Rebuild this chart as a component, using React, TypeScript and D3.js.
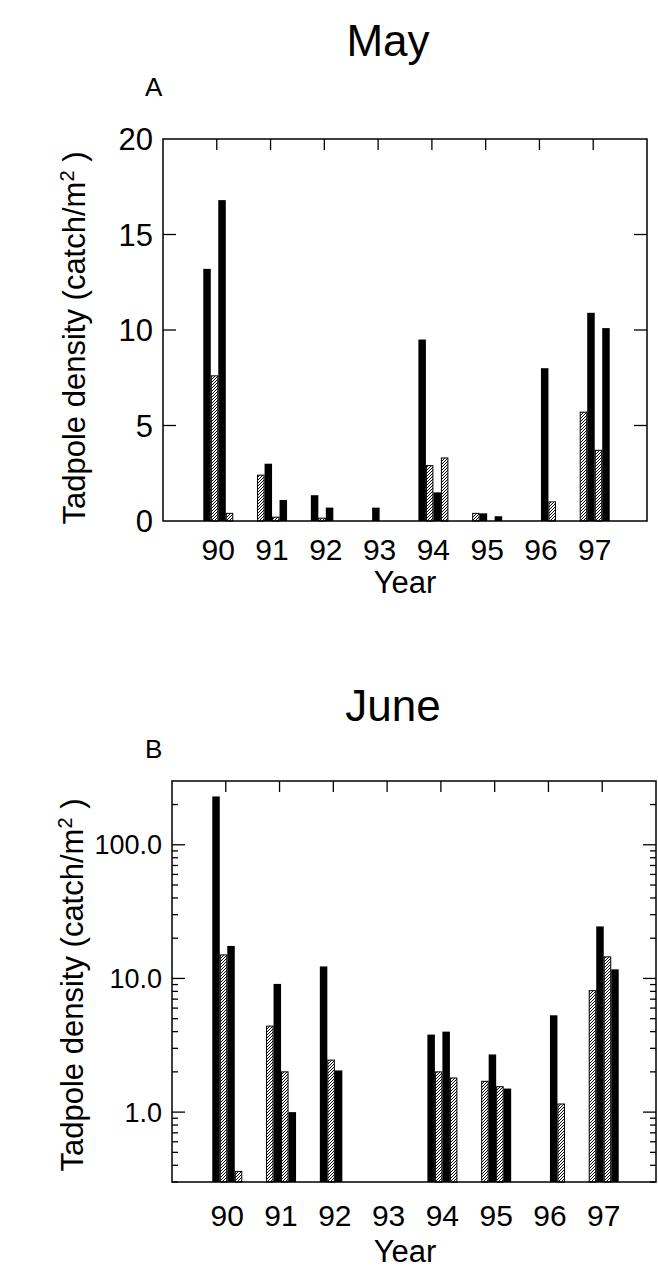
import React, { useRef, useEffect } from 'react';
import * as d3 from 'd3';

// --- Data ---
const years = ['90', '91', '92', '93', '94', '95', '96', '97'];
const yearNums = [90, 91, 92, 93, 94, 95, 96, 97];
// fill of each of the 4 bars in a year group: B = solid, H = hatched
const slotFills = ['BHBH', 'HBHB', 'BHBH', 'HBHB', 'BHBH', 'HBHB', 'BHBH', 'HBHB'];

// May (panel A), one array per bar slot
const maySite1 = [13.2, 2.4, 1.35, null, 9.5, 0.4, null, 5.7];
const maySite2 = [7.6, 3.0, 0.15, 0.7, 2.9, 0.4, null, 10.9];
const maySite3 = [16.8, 0.2, 0.7, null, 1.5, null, 8.0, 3.7];
const maySite4 = [0.4, 1.1, null, null, 3.3, 0.25, 1.0, 10.1];

// June (panel B)
const juneSite1 = [230, 4.4, 12.3, null, 3.8, 1.7, null, 8.1];
const juneSite2 = [15, 9.1, 2.45, null, 2.0, 2.7, null, 24.5];
const juneSite3 = [17.5, 2.0, 2.05, null, 4.0, 1.55, 5.3, 14.5];
const juneSite4 = [0.36, 1.0, null, null, 1.8, 1.5, 1.15, 11.7];

const mayTickValues = [0, 5, 10, 15, 20];
const juneTickValues = [1, 10, 100];
const juneTickLabels = ['1.0', '10.0', '100.0'];

const FONT = '"Liberation Sans", Arial, Helvetica, sans-serif';

const drawPanel = (svg, cfg) => {
  const { box } = cfg;
  const g = svg.append('g');
  const x = d3.scaleLinear().domain([89, 98]).range([box.left, box.right]);
  const y = cfg.yScale;
  const yBase = box.bottom;
  const slotW = 7.5;

  // titles
  g.append('text')
    .attr('x', cfg.titleX).attr('y', cfg.titleY)
    .attr('text-anchor', 'middle')
    .style('font-family', FONT).style('font-size', '44px')
    .text(cfg.title);
  g.append('text')
    .attr('x', cfg.letterX).attr('y', cfg.letterY)
    .style('font-family', FONT).style('font-size', '26px')
    .text(cfg.letter);

  // bars
  cfg.sites.forEach((site, s) => {
    site.forEach((v, i) => {
      if (v == null) return;
      const kind = slotFills[i][s];
      const x0 = x(yearNums[i]) + (s - 2) * slotW + 1.5;
      const top = y(v);
      g.append('rect')
        .attr('x', x0 + (kind === 'H' ? 0.5 : 0))
        .attr('y', top)
        .attr('width', kind === 'H' ? slotW - 1 : slotW)
        .attr('height', Math.max(0, yBase - top))
        .attr('fill', kind === 'H' ? 'url(#hatch)' : '#000')
        .attr('stroke', kind === 'H' ? '#000' : 'none')
        .attr('stroke-width', 1);
    });
  });

  // frame
  g.append('rect')
    .attr('x', box.left).attr('y', box.top)
    .attr('width', box.right - box.left).attr('height', box.bottom - box.top)
    .attr('fill', 'none').attr('stroke', '#000').attr('stroke-width', 1.5);

  // top ticks at years
  yearNums.forEach(yr => {
    g.append('line')
      .attr('x1', x(yr)).attr('x2', x(yr))
      .attr('y1', box.top).attr('y2', box.top + 11)
      .attr('stroke', '#000').attr('stroke-width', 1.3);
  });

  // y ticks (both sides, inward)
  const drawYTick = (val, len) => {
    const yy = y(val);
    g.append('line').attr('x1', box.left).attr('x2', box.left + len)
      .attr('y1', yy).attr('y2', yy).attr('stroke', '#000').attr('stroke-width', 1.3);
    g.append('line').attr('x1', box.right).attr('x2', box.right - len)
      .attr('y1', yy).attr('y2', yy).attr('stroke', '#000').attr('stroke-width', 1.3);
  };
  cfg.majorTicks.forEach(v => {
    if (y(v) > box.top + 1 && y(v) < box.bottom - 1) drawYTick(v, 13);
  });
  cfg.minorTicks.forEach(v => drawYTick(v, 6));

  // y tick labels
  cfg.majorTicks.forEach((v, i) => {
    g.append('text')
      .attr('x', box.left - 10).attr('y', y(v))
      .attr('dy', '0.36em')
      .attr('text-anchor', 'end')
      .style('font-family', FONT).style('font-size', cfg.tickFont)
      .text(cfg.tickLabels[i]);
  });

  // x labels
  years.forEach((lab, i) => {
    g.append('text')
      .attr('x', x(yearNums[i]) + 1.5).attr('y', cfg.yearLabelY)
      .attr('text-anchor', 'middle')
      .style('font-family', FONT).style('font-size', '30px')
      .text(lab);
  });
  g.append('text')
    .attr('x', cfg.xTitleX).attr('y', cfg.xTitleY)
    .attr('text-anchor', 'middle')
    .style('font-family', FONT).style('font-size', '31px')
    .text('Year');

  // y axis title
  const yl = g.append('text')
    .attr('transform', `translate(${cfg.yTitleX},${cfg.yTitleY}) rotate(-90)`)
    .attr('text-anchor', 'middle')
    .style('font-family', FONT).style('font-size', '31px');
  yl.append('tspan').text('Tadpole density (catch/m');
  yl.append('tspan').attr('baseline-shift', 'super').style('font-size', '20px').text('2');
  yl.append('tspan').text(' )');
};

const App = () => {
  const svgRef = useRef(null);

  useEffect(() => {
    const svg = d3.select(svgRef.current).html('');

    // hatch pattern for the striped bars
    const pat = svg.append('defs').append('pattern')
      .attr('id', 'hatch')
      .attr('patternUnits', 'userSpaceOnUse')
      .attr('width', 3).attr('height', 3);
    pat.append('rect').attr('width', 3).attr('height', 3).attr('fill', '#fff');
    pat.append('path')
      .attr('d', 'M-0.75,0.75 L0.75,-0.75 M0,3 L3,0 M2.25,3.75 L3.75,2.25')
      .attr('stroke', '#000').attr('stroke-width', 1);

    // --- Panel A (May), linear ---
    const boxA = { left: 163, right: 647, top: 139, bottom: 521 };
    const yA = d3.scaleLinear().domain([0, 20]).range([boxA.bottom, boxA.top]);
    drawPanel(svg, {
      title: 'May', titleX: 388, titleY: 56,
      letter: 'A', letterX: 145, letterY: 96,
      box: boxA, yScale: yA,
      sites: [maySite1, maySite2, maySite3, maySite4],
      majorTicks: mayTickValues, tickLabels: mayTickValues.map(String), minorTicks: [],
      tickFont: '31px',
      yearLabelY: 560, xTitleX: 405, xTitleY: 593,
      yTitleX: 85, yTitleY: 338,
    });

    // --- Panel B (June), log ---
    const boxB = { left: 172, right: 656, top: 781, bottom: 1182 };
    const yB = d3.scaleLog().domain([0.3, 300]).range([boxB.bottom, boxB.top]);
    const minor = [];
    [0.1, 1, 10, 100].forEach(dec => {
      for (let k = 2; k <= 9; k++) {
        const v = k * dec;
        if (v > 0.3 && v < 300) minor.push(v);
      }
    });
    drawPanel(svg, {
      title: 'June', titleX: 393, titleY: 721,
      letter: 'B', letterX: 145, letterY: 758,
      box: boxB, yScale: yB,
      sites: [juneSite1, juneSite2, juneSite3, juneSite4],
      majorTicks: juneTickValues, tickLabels: juneTickLabels, minorTicks: minor,
      tickFont: '27px',
      yearLabelY: 1226, xTitleX: 405, xTitleY: 1262,
      yTitleX: 83, yTitleY: 985,
    });
  }, []);

  return (
    <svg
      ref={svgRef}
      width={658}
      height={1273}
      style={{ position: 'absolute', left: 0, top: 0, background: '#fff' }}
    ></svg>
  );
};

export default App;
